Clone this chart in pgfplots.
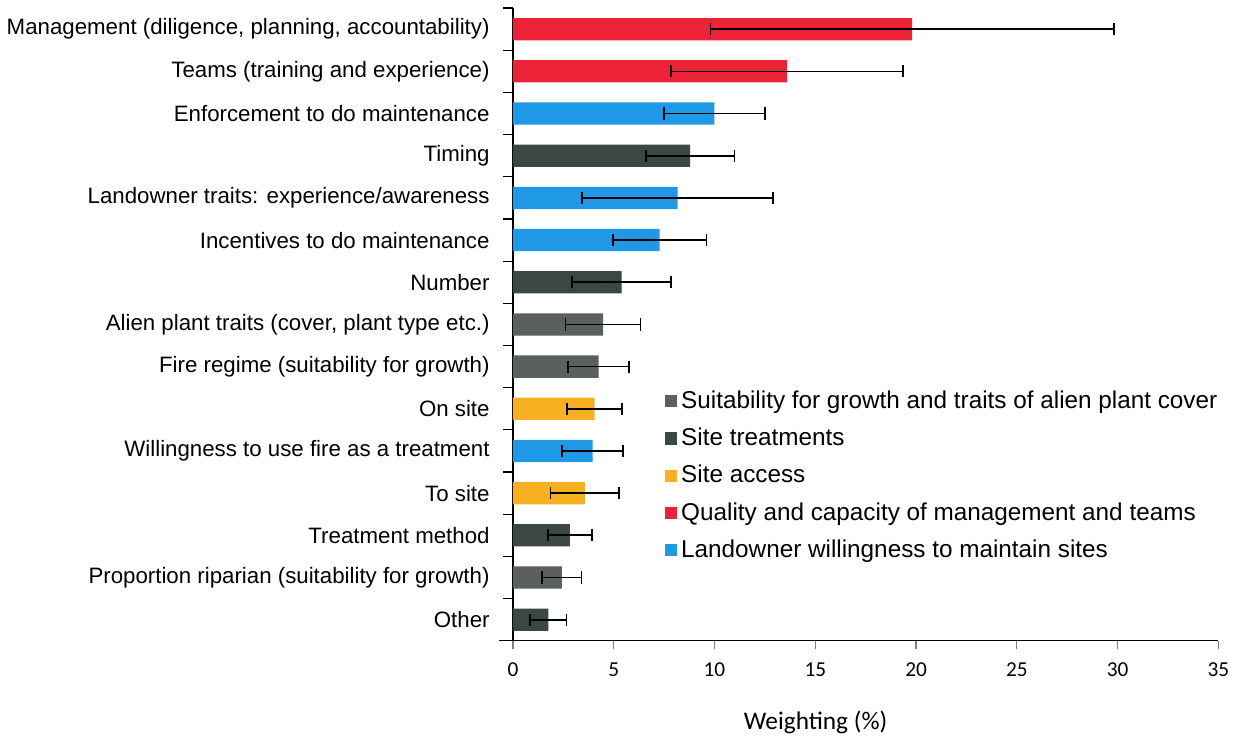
\documentclass[border=0pt]{standalone}
\usepackage{pgfplots}
\pgfplotsset{compat=1.18}
\usepackage{fontspec}
\setmainfont{Liberation Sans}
\newfontfamily\carlito{Carlito}
\definecolor{cSuit}{HTML}{5B605D}
\definecolor{cTreat}{HTML}{3A4841}
\definecolor{cAccess}{HTML}{F7B022}
\definecolor{cQual}{HTML}{EC2236}
\definecolor{cLand}{HTML}{1F98E6}
\begin{document}
\begin{tikzpicture}
\begin{axis}[
  scale only axis,
  width=348.5pt, height=312.5pt,
  xbar, bar shift=0pt, bar width=11pt,
  xmin=0, xmax=35, xtick={0,5,...,35},
  ymin=-0.5, ymax=14.5, y dir=reverse,
  ytick={0,...,14},
  yticklabels={{Management (diligence, planning, accountability)},{Teams (training and experience)},{Enforcement to do maintenance},{Timing},{Landowner traits: experience/awareness},{Incentives to do maintenance},{Number},{Alien plant traits (cover, plant type etc.)},{Fire regime (suitability for growth)},{On site},{Willingness to use fire as a treatment},{To site},{Treatment method},{Proportion riparian (suitability for growth)},{Other}},
  minor ytick={-0.5,0.5,...,14.5},
  major y tick style={draw=none},
  minor y tick style={draw=black, line width=0.6pt},
  minor tick length=5pt,
  major tick length=4pt,
  tick align=outside,
  axis x line*=bottom, axis y line*=left,
  x axis line style={line width=0.7pt, shorten <=-7pt},
  y axis line style={line width=0.7pt},
  xtick style={line width=0.6pt},
  yticklabel style={font=\fontsize{11}{13}\selectfont, xshift=-4pt},
  xticklabel style={font=\carlito\fontsize{10.5}{12}\selectfont, yshift=-3.5pt},
  /pgf/number format/assume math mode=true,
  xlabel={\carlito\fontsize{12.5}{14}\selectfont Weighting (\%)},
  xlabel style={at={(axis description cs:0.429,0)}, anchor=north, yshift=-31pt},
  legend style={at={(rel axis cs:0.215,0.402)}, anchor=north west, draw=none, fill=none,
    font=\fontsize{12}{14}\selectfont, row sep=4.2pt, inner sep=0pt},
  legend cell align=left,
  legend image code/.code={\fill[#1] (0pt,-3pt) rectangle (6pt,3pt);},
  error bars/error bar style={black, line width=0.85pt},
  error bars/error mark options={rotate=90, black, line width=0.85pt, mark size=3pt},
]
\addplot[fill=cSuit, draw=none, error bars/.cd, x dir=both, x explicit]
  coordinates {(4.47,7) +- (1.86,0) (4.25,8) +- (1.5,0) (2.43,13) +- (0.97,0)};
\addlegendentry{Suitability for growth and traits of alien plant cover}
\addplot[fill=cTreat, draw=none, error bars/.cd, x dir=both, x explicit]
  coordinates {(8.79,3) +- (2.2,0) (5.39,6) +- (2.45,0) (2.83,12) +- (1.1,0) (1.76,14) +- (0.9,0)};
\addlegendentry{Site treatments}
\addplot[fill=cAccess, draw=none, error bars/.cd, x dir=both, x explicit]
  coordinates {(4.05,9) +- (1.37,0) (3.57,11) +- (1.7,0)};
\addlegendentry{Site access}
\addplot[fill=cQual, draw=none, error bars/.cd, x dir=both, x explicit]
  coordinates {(19.8,0) +- (10,0) (13.6,1) +- (5.74,0)};
\addlegendentry{Quality and capacity of management and teams}
\addplot[fill=cLand, draw=none, error bars/.cd, x dir=both, x explicit]
  coordinates {(10.0,2) +- (2.5,0) (8.17,4) +- (4.75,0) (7.28,5) +- (2.33,0) (3.95,10) +- (1.5,0)};
\addlegendentry{Landowner willingness to maintain sites}
\coordinate (TopLeft) at (rel axis cs:0,1);
\end{axis}
\path (TopLeft) ++(0,4pt);
\end{tikzpicture}
\end{document}
